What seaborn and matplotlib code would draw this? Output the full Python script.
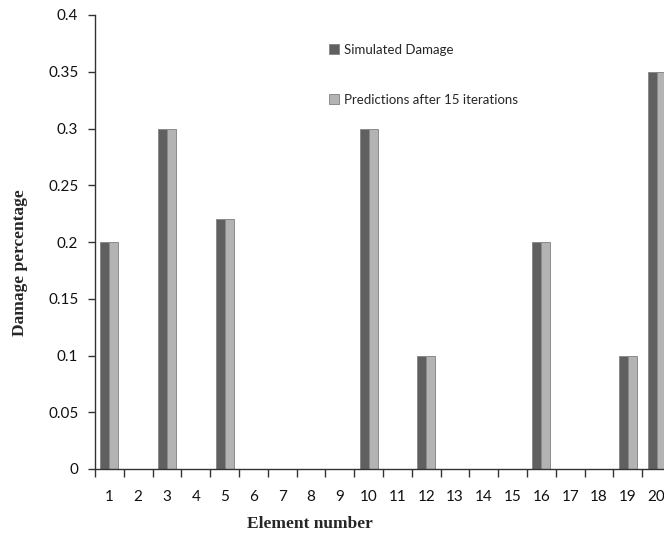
import matplotlib
matplotlib.use("Agg")
import matplotlib.pyplot as plt
from matplotlib.patches import Patch
import seaborn as sns
import pandas as pd
import numpy as np

elements = [str(i) for i in range(1, 21)]
simulated = [0.2, 0, 0.3, 0, 0.22, 0, 0, 0, 0, 0.3, 0, 0.1, 0, 0, 0, 0.2, 0, 0, 0.1, 0.35]
predicted = [0.2, 0, 0.3, 0, 0.22, 0, 0, 0, 0, 0.3, 0, 0.1, 0, 0, 0, 0.2, 0, 0, 0.1, 0.35]
series_names = ["Simulated Damage", "Predictions after 15 iterations"]
y_ticks = [0, 0.05, 0.1, 0.15, 0.2, 0.25, 0.3, 0.35, 0.4]
y_tick_labels = ["0", "0.05", "0.1", "0.15", "0.2", "0.25", "0.3", "0.35", "0.4"]

df = pd.DataFrame({
    "Element": elements * 2,
    "Damage": simulated + predicted,
    "Series": [series_names[0]] * len(elements) + [series_names[1]] * len(elements),
})

sns.set_style("white")
plt.rcParams["font.family"] = ["Lato", "DejaVu Sans"]

W, H = 664, 535
fig = plt.figure(figsize=(W / 100, H / 100), dpi=100)
left, bottom_px, right, top_px = 95, 469, 671, 15
ax = fig.add_axes([left / W, (H - bottom_px) / H, (right - left) / W, (bottom_px - top_px) / H])

colors = ["#606060", "#b3b3b3"]
sns.barplot(data=df, x="Element", y="Damage", hue="Series", order=elements,
            hue_order=series_names, palette=colors, width=0.62, dodge=True,
            edgecolor="#8a8a8a", linewidth=0.7, legend=False, ax=ax, errorbar=None)

ax.set_xlim(-0.5, len(elements) - 0.5)
ax.set_ylim(0, 0.4)
ax.set_yticks(y_ticks)
ax.set_yticklabels(y_tick_labels)

for s in ["top", "right"]:
    ax.spines[s].set_visible(False)
for s in ["left", "bottom"]:
    ax.spines[s].set_color("#333333")
    ax.spines[s].set_linewidth(1.0)

ax.set_xticks(np.arange(len(elements)))
ax.set_xticklabels(elements)
ax.set_xticks(np.arange(-0.5, len(elements) + 0.5, 1), minor=True)
ax.tick_params(axis="x", which="major", bottom=True, length=0, pad=15, labelsize=11,
               labelcolor="#111111")
ax.tick_params(axis="x", which="minor", bottom=True, length=6, width=1, color="#333333",
               direction="out")
ax.tick_params(axis="y", which="major", length=5, width=1, color="#333333", direction="out",
               left=True, pad=7, labelsize=11, labelcolor="#111111")

ax.set_xlabel("Element number", fontfamily="Liberation Serif", fontweight="bold", fontsize=12.5,
              va="center")
ax.xaxis.set_label_coords((310 - left) / (right - left), (bottom_px - 524) / (bottom_px - top_px))
ax.set_ylabel("Damage percentage", fontfamily="Liberation Serif", fontweight="bold", fontsize=12.5,
              va="center")
ax.yaxis.set_label_coords((20 - left) / (right - left), (bottom_px - 263) / (bottom_px - top_px))

handles = [Patch(facecolor=colors[0], edgecolor="#8a8a8a", linewidth=0.7),
           Patch(facecolor=colors[1], edgecolor="#8a8a8a", linewidth=0.7)]
fig.legend(handles, series_names, loc="upper left", bbox_to_anchor=(322 / W, 1 - 37 / H),
           frameon=False, fontsize=9.5, borderpad=0, handlelength=0.8, handleheight=0.8,
           handletextpad=0.4, labelspacing=2.9)

fig.savefig("out.png", dpi=100)
